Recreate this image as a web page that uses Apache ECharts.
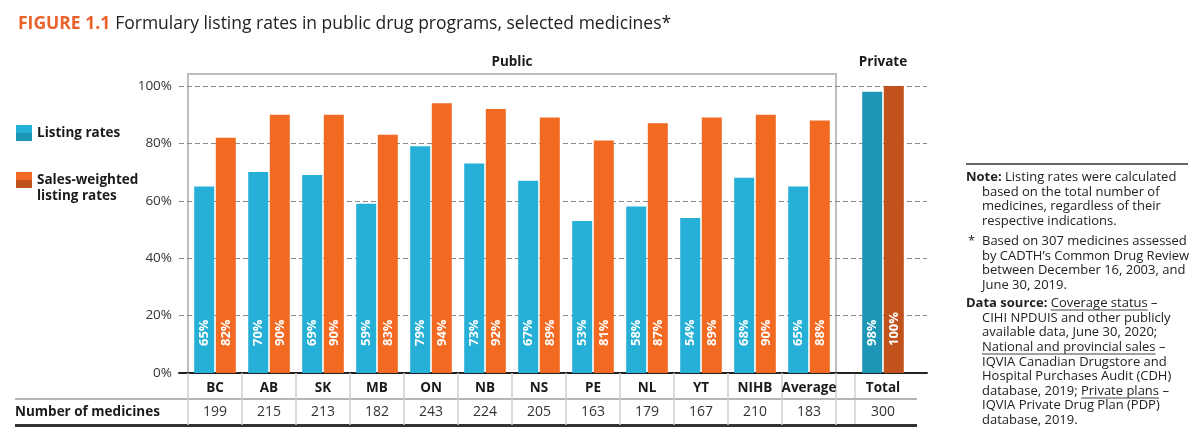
<!DOCTYPE html>
<html>
<head>
<meta charset="utf-8">
<script src="https://cdn.jsdelivr.net/npm/echarts@6/dist/echarts.min.js"></script>
<style>
  html, body { margin: 0; padding: 0; background: #fff; }
  #chart { width: 1200px; height: 436px; }
</style>
</head>
<body>
<div id="chart"></div>
<script>
const categories = ['BC', 'AB', 'SK', 'MB', 'ON', 'NB', 'NS', 'PE', 'NL', 'YT', 'NIHB', 'Average'];
const listingRates = [65, 70, 69, 59, 79, 73, 67, 53, 58, 54, 68, 65];
const salesWeightedRates = [82, 90, 90, 83, 94, 92, 89, 81, 87, 89, 90, 88];
const medicineCounts = [199, 215, 213, 182, 243, 224, 205, 163, 179, 167, 210, 183];

const privateCategories = ['Total'];
const privateListingRates = [98];
const privateSalesWeightedRates = [100];
const privateMedicineCounts = [300];

const yMin = 0;
const yMax = 100;
const yStep = 20;

const FONT = '"Open Sans", "DejaVu Sans", sans-serif';
const NOTE_SIZE = 13;
const BLUE = '#27B0D7';
const ORANGE = '#F26A22';
const BLUE_DARK = '#1E97B6';
const ORANGE_DARK = '#C2521B';

const LISTING = 'Listing rates';
const SALES = 'Sales-weighted\nlisting rates';

const chart = echarts.init(document.getElementById('chart'));

// measure text to place underlines in the notes
const measureCtx = document.createElement('canvas').getContext('2d');
function textWidth(str, weight) {
    measureCtx.font = (weight || 'normal') + ' ' + NOTE_SIZE + 'px ' + FONT;
    return measureCtx.measureText(str).width;
}

function halfGradient(top, bottom) {
    return new echarts.graphic.LinearGradient(0, 0, 0, 1, [
        { offset: 0, color: top }, { offset: 0.5, color: top },
        { offset: 0.5, color: bottom }, { offset: 1, color: bottom }
    ]);
}

function barLabel() {
    return {
        show: true,
        position: 'insideBottom',
        rotate: 90,
        align: 'left',
        verticalAlign: 'middle',
        distance: 27,
        formatter: '{c}%',
        color: '#fff',
        fontWeight: 'bold',
        fontSize: 13,
        fontFamily: FONT
    };
}

function categoryAxis(gridIndex, data, counts, showTick) {
    return {
        type: 'category',
        gridIndex: gridIndex,
        data: data,
        axisLine: { show: false },
        axisTick: { show: showTick, length: 52, lineStyle: { color: '#cfcfcf', width: 1.5 } },
        axisLabel: {
            interval: 0,
            margin: 3,
            formatter: function(value, index) {
                return '{c|' + value + '}\n{n|' + counts[index] + '}';
            },
            rich: {
                c: { fontWeight: 'bold', fontSize: 13.5, lineHeight: 24, color: '#1a1a1a', fontFamily: FONT },
                n: { fontSize: 14, lineHeight: 24, color: '#333', fontFamily: FONT }
            }
        },
        splitLine: { show: false }
    };
}

function hiddenValueAxis(gridIndex) {
    return { type: 'value', gridIndex: gridIndex, min: yMin, max: yMax, show: false };
}

// notes on the right
const noteLines = [
    { x: 966, y: 177, t: '{b|Note:} Listing rates were calculated' },
    { x: 982, y: 192, t: 'based on the total number of' },
    { x: 982, y: 206, t: 'medicines, regardless of their' },
    { x: 982, y: 221, t: 'respective indications.' },
    { x: 968, y: 241, t: '*' },
    { x: 982, y: 241, t: 'Based on 307 medicines assessed' },
    { x: 982, y: 256, t: 'by CADTH\u2019s Common Drug Review' },
    { x: 982, y: 270, t: 'between December 16, 2003, and' },
    { x: 982, y: 285, t: 'June 30, 2019.' },
    { x: 966, y: 303, t: '{b|Data source:} Coverage status \u2013' },
    { x: 982, y: 318, t: 'CIHI NPDUIS and other publicly' },
    { x: 982, y: 332, t: 'available data, June 30, 2020;' },
    { x: 982, y: 347, t: 'National and provincial sales \u2013' },
    { x: 982, y: 362, t: 'IQVIA Canadian Drugstore and' },
    { x: 982, y: 376, t: 'Hospital Purchases Audit (CDH)' },
    { x: 982, y: 391, t: 'database, 2019; Private plans \u2013' },
    { x: 982, y: 405, t: 'IQVIA Private Drug Plan (PDP)' },
    { x: 982, y: 420, t: 'database, 2019.' }
];

const underlines = [
    { x: 966 + textWidth('Data source: ', 'bold'), y: 310, w: textWidth('Coverage status') },
    { x: 982, y: 354, w: textWidth('National and provincial sales') },
    { x: 982 + textWidth('database, 2019; '), y: 398, w: textWidth('Private plans') }
];

const graphics = [];

// public box
graphics.push({
    type: 'rect', z: 0,
    shape: { x: 188, y: 74, width: 648, height: 299 },
    style: { fill: 'none', stroke: '#bdbdbd', lineWidth: 2 }
});
graphics.push({
    type: 'text', x: 512, y: 62,
    style: { text: 'Public', align: 'center', verticalAlign: 'middle', fontSize: 13.5, fontWeight: 'bold', fontFamily: FONT, fill: '#1a1a1a' }
});
graphics.push({
    type: 'text', x: 883, y: 62,
    style: { text: 'Private', align: 'center', verticalAlign: 'middle', fontSize: 13.5, fontWeight: 'bold', fontFamily: FONT, fill: '#1a1a1a' }
});

// table lines
graphics.push({ type: 'line', shape: { x1: 855, y1: 373, x2: 855, y2: 425 }, style: { stroke: '#cfcfcf', lineWidth: 1.5 } });
graphics.push({ type: 'line', shape: { x1: 15, y1: 399, x2: 917, y2: 399 }, style: { stroke: '#b5b5b5', lineWidth: 2 } });
graphics.push({ type: 'line', shape: { x1: 15, y1: 425.5, x2: 917, y2: 425.5 }, style: { stroke: '#333', lineWidth: 3 } });
graphics.push({
    type: 'text', x: 15, y: 412,
    style: { text: 'Number of medicines', verticalAlign: 'middle', fontSize: 13.5, fontWeight: 'bold', fontFamily: FONT, fill: '#1a1a1a' }
});

// notes
graphics.push({ type: 'line', shape: { x1: 966, y1: 164, x2: 1188, y2: 164 }, style: { stroke: '#666', lineWidth: 2 } });
noteLines.forEach(function(line) {
    graphics.push({
        type: 'text', x: line.x, y: line.y,
        style: {
            text: line.t, verticalAlign: 'middle',
            fontSize: NOTE_SIZE, fontFamily: FONT, fill: '#222',
            rich: { b: { fontWeight: 'bold', fontSize: NOTE_SIZE, fontFamily: FONT, fill: '#222' } }
        }
    });
});
underlines.forEach(function(u) {
    graphics.push({ type: 'line', shape: { x1: u.x, y1: u.y, x2: u.x + u.w, y2: u.y }, style: { stroke: '#444', lineWidth: 1 } });
});

const option = {
    animation: false,
    backgroundColor: '#fff',
    title: {
        left: 13,
        top: 10,
        text: '{a|FIGURE 1.1} {b|Formulary listing rates in public drug programs, selected medicines*}',
        textStyle: {
            rich: {
                a: { fontSize: 17.5, fontWeight: 'bold', color: '#E8622C', fontFamily: FONT },
                b: { fontSize: 17.5, fontWeight: 'normal', color: '#222', fontFamily: FONT }
            }
        }
    },
    legend: {
        orient: 'vertical',
        left: 16,
        top: 125,
        padding: 0,
        itemWidth: 16,
        itemHeight: 16,
        itemGap: 15,
        icon: 'rect',
        selectedMode: false,
        // empty first line drops the two-line label so it hangs from the square's top
        formatter: function(name) {
            return name === SALES ? '\n' + name : name;
        },
        textStyle: { fontSize: 13.5, fontWeight: 'bold', color: '#1a1a1a', fontFamily: FONT, lineHeight: 16 },
        data: [
            { name: LISTING, itemStyle: { color: halfGradient(BLUE, BLUE_DARK) } },
            { name: SALES, itemStyle: { color: halfGradient(ORANGE, ORANGE_DARK) } }
        ]
    },
    grid: [
        { left: 179, right: 273, top: 86, bottom: 63 },
        { left: 188, right: 364, top: 86, bottom: 63 },
        { left: 856, right: 290, top: 86, bottom: 63 }
    ],
    xAxis: [
        {
            type: 'value', gridIndex: 0, min: 0, max: 1,
            axisLine: { show: true, onZero: false, lineStyle: { color: '#222', width: 2 } },
            axisTick: { show: false }, axisLabel: { show: false }, splitLine: { show: false }
        },
        categoryAxis(1, categories, medicineCounts, true),
        categoryAxis(2, privateCategories, privateMedicineCounts, false)
    ],
    yAxis: [
        {
            type: 'value', gridIndex: 0, min: yMin, max: yMax, interval: yStep,
            axisLine: { show: false }, axisTick: { show: false },
            axisLabel: { formatter: '{value}%', margin: 7, fontSize: 13.5, color: '#333', fontFamily: FONT },
            splitLine: { lineStyle: { color: '#8a8a8a', type: [5, 3], width: 1 } }
        },
        hiddenValueAxis(1),
        hiddenValueAxis(2)
    ],
    graphic: graphics,
    series: [
        {
            name: LISTING, type: 'bar', xAxisIndex: 1, yAxisIndex: 1,
            data: listingRates, barWidth: 20, barGap: '8%',
            itemStyle: { color: BLUE }, label: barLabel()
        },
        {
            name: SALES, type: 'bar', xAxisIndex: 1, yAxisIndex: 1,
            data: salesWeightedRates, barWidth: 20,
            itemStyle: { color: ORANGE }, label: barLabel()
        },
        {
            name: 'Private listing rates', type: 'bar', xAxisIndex: 2, yAxisIndex: 2,
            data: privateListingRates, barWidth: 20, barGap: '8%',
            itemStyle: { color: BLUE_DARK }, label: barLabel()
        },
        {
            name: 'Private sales-weighted listing rates', type: 'bar', xAxisIndex: 2, yAxisIndex: 2,
            data: privateSalesWeightedRates, barWidth: 20,
            itemStyle: { color: ORANGE_DARK }, label: barLabel()
        }
    ]
};

chart.setOption(option);
</script>
</body>
</html>
